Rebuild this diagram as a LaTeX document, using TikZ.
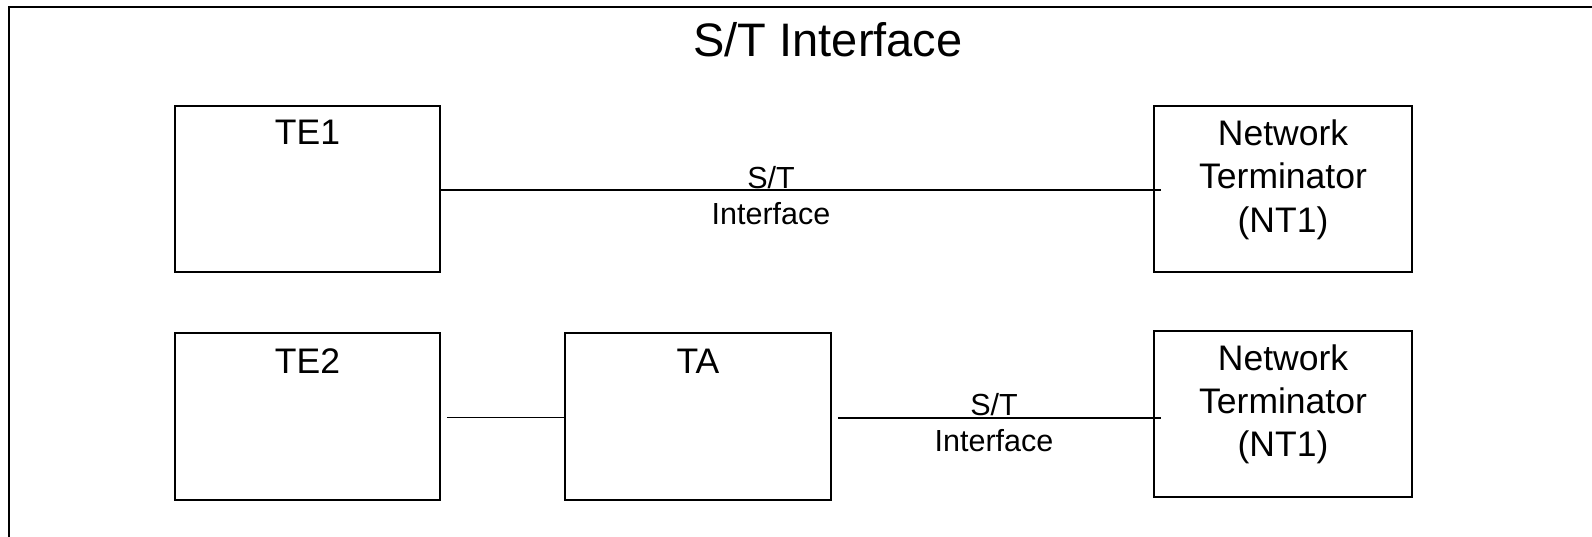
\documentclass[tikz,border=0pt]{standalone}
\usepackage{fontspec}
\setmainfont{Liberation Sans}
\begin{document}
\begin{tikzpicture}[x=1pt,y=-1pt,
  frameline/.style={line width=2pt},
  unit/.style={draw, line width=1.5pt, inner sep=0pt},
  % multi-line captions are placed by the baseline of their last line
  boxtext/.style={anchor=base, align=center, inner sep=0pt,
    font=\fontsize{35.5}{43.3}\selectfont},
  linklabel/.style={anchor=base, align=center, inner sep=0pt,
    font=\fontsize{30.5}{36.7}\selectfont},
  link/.style={line width=1.5pt}]
  \useasboundingbox (0,0) rectangle (1592,537);
  \fill[white] (0,0) rectangle (1592,537);

  % outer frame (left and top edges)
  \draw[frameline] (9,537) -- (9,7) -- (1592,7);

  % title
  \node[anchor=base, inner sep=0pt, font=\fontsize{47}{56}\selectfont]
    (title) at (828,56.7) {S/T Interface};

  % equipment boxes
  \node[unit, minimum width=265pt, minimum height=166pt] (te1)  at (307.5,189) {};
  \node[unit, minimum width=258pt, minimum height=166pt] (nt1a) at (1283,189) {};
  \node[unit, minimum width=265pt, minimum height=167pt] (te2)  at (307.5,416.5) {};
  \node[unit, minimum width=266pt, minimum height=167pt] (ta)   at (698,416.5) {};
  \node[unit, minimum width=258pt, minimum height=166pt] (nt1b) at (1283,414) {};

  % box captions
  \node[boxtext] (te1t)  at (307.5,145) {TE1};
  \node[boxtext] (nt1at) at (1283,232.3) {Network\\Terminator\\(NT1)};
  \node[boxtext] (te2t)  at (307.5,373) {TE2};
  \node[boxtext] (tat)   at (698,373) {TA};
  \node[boxtext] (nt1bt) at (1283,456.6) {Network\\Terminator\\(NT1)};

  % connections
  \coordinate (l1) at (te1.east |- 0,190);
  \draw[link, shorten >=-8pt] (l1) -- (l1 -| nt1a.west);
  \coordinate (l2) at (te2.east |- 0,417.7);
  \draw[link, shorten <=6pt] (l2) -- (l2 -| ta.west);
  \coordinate (l3) at (ta.east |- 0,418);
  \draw[link, shorten <=6pt, shorten >=-8pt] (l3) -- (l3 -| nt1b.west);

  % interface labels
  \node[linklabel] (lab1) at (771,225) {S/T\\Interface};
  \node[linklabel] (lab2) at (994,451.7) {S/T\\Interface};
\end{tikzpicture}
\end{document}
